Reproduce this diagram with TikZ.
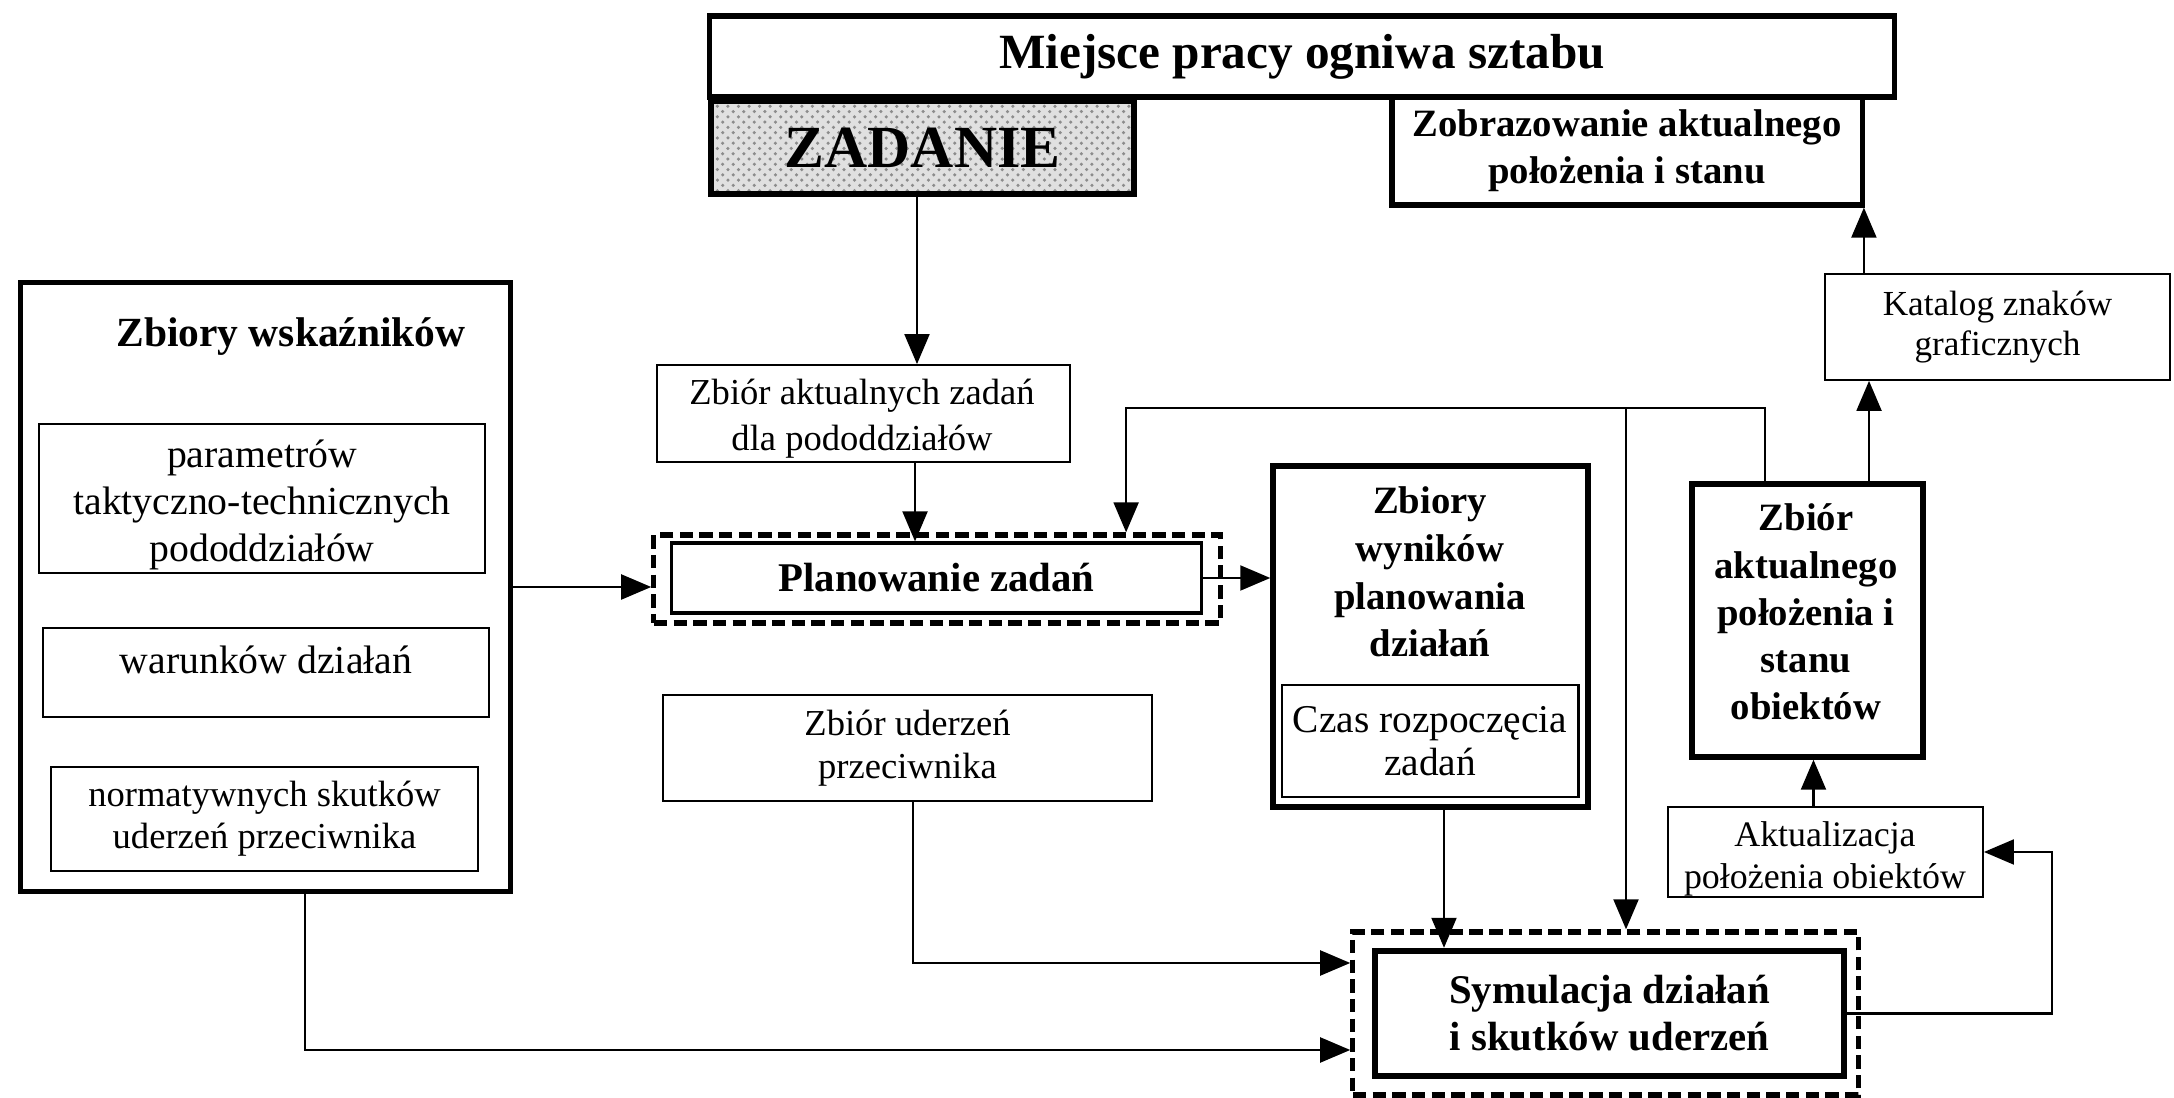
\documentclass[tikz,border=0pt]{standalone}
\usepackage{fontspec}
\setmainfont{Liberation Serif}
\usetikzlibrary{arrows.meta,patterns}
\begin{document}
\begin{tikzpicture}[x=0.01cm,y=-0.01cm,
  thickbox/.style={draw, line width=1.5pt, inner sep=0pt, align=center},
  thinbox/.style={draw, line width=0.5pt, inner sep=0pt, align=center},
  dashbox/.style={draw, line width=1.5pt, dash pattern=on 3.8pt off 1.8pt, inner sep=0pt},
  conn/.style={line width=0.6pt, -{Triangle[length=0.30cm,width=0.25cm]}},
  bigb/.style={font=\fontsize{14}{16}\selectfont\bfseries},
  midb/.style={font=\fontsize{11.6}{13.4}\selectfont\bfseries},
  small/.style={font=\fontsize{10}{11.6}\selectfont}
]
\useasboundingbox (0,0) rectangle (2174,1098);

% top row
\node[thickbox, bigb, minimum width=11.84cm, minimum height=0.81cm] (miejsce) at (1302,56.5) {Miejsce pracy ogniwa sztabu};
\node[thickbox, line width=1.8pt, preaction={fill=black!12}, pattern=crosshatch dots, pattern color=black!45,
      minimum width=4.23cm, minimum height=0.93cm] (zadanie) at (922.5,147.5) {};
\node[font=\fontsize{17}{19}\selectfont\bfseries] (zadtxt) at (922.5,147.5) {ZADANIE};
\node[thickbox, font=\fontsize{11}{13.4}\selectfont\bfseries, minimum width=4.70cm, minimum height=1.08cm] (zobraz) at (1627,151) {Zobrazowanie aktualnego\\położenia i stanu};

% indicator sets
\node[thickbox, minimum width=4.89cm, minimum height=6.08cm] (wsk) at (265.5,587) {};
\node[font=\fontsize{11.8}{14}\selectfont\bfseries] (wsktitle) at (291,337) {Zbiory wskaźników};
\node[thinbox, minimum width=4.46cm, minimum height=1.49cm] (par) at (262,498.5) {};
\node[align=center, font=\fontsize{11.3}{13.4}\selectfont] (partxt) at (262,505) {parametrów\\taktyczno-technicznych\\pododdziałów};
\node[thinbox, minimum width=4.46cm, minimum height=0.89cm] (war) at (266,672.5) {};
\node[font=\fontsize{11.3}{13.4}\selectfont] (wartxt) at (266,660) {warunków działań};
\node[thinbox, font=\fontsize{10.4}{12}\selectfont, minimum width=4.27cm, minimum height=1.04cm] (norm) at (264.5,819) {normatywnych skutków\\uderzeń przeciwnika};

% planning
\node[thinbox, minimum width=4.13cm, minimum height=0.97cm] (aktz) at (863.5,413.5) {};
\node[align=center, font=\fontsize{10.4}{13}\selectfont] (aktztxt) at (862,419) {Zbiór aktualnych zadań\\dla pododdziałów};
\node[dashbox, minimum width=5.66cm, minimum height=0.88cm] (plan) at (937,579) {};
\node[draw, line width=0.9pt, inner sep=0pt, midb, minimum width=5.29cm, minimum height=0.70cm] (planin) at (936.5,578) {Planowanie zadań};

\node[thickbox, minimum width=3.15cm, minimum height=3.41cm] (wyn) at (1430.5,636.5) {};
\node[align=center, font=\fontsize{11}{13.6}\selectfont\bfseries] (wyntxt) at (1430,572) {Zbiory\\wyników\\planowania\\działań};
\node[thinbox, line width=0.8pt, font=\fontsize{11.2}{12.2}\selectfont, minimum width=2.96cm, minimum height=1.12cm] (czas) at (1430,741) {Czas rozpoczęcia\\zadań};

\node[thinbox, font=\fontsize{10.4}{12.2}\selectfont, minimum width=4.89cm, minimum height=1.06cm] (uderz) at (907.5,748) {Zbiór uderzeń\\przeciwnika};

% simulation
\node[dashbox, minimum width=5.05cm, minimum height=1.63cm] (sym) at (1605.5,1013.5) {};
\node[thickbox, line width=1.8pt, midb, minimum width=4.69cm, minimum height=1.25cm] (symin) at (1609.5,1013.5) {Symulacja działań\\i skutków uderzeń};

% object state
\node[thickbox, minimum width=2.31cm, minimum height=2.73cm] (zap) at (1807.5,620.5) {};
\node[align=center, font=\fontsize{11}{13.4}\selectfont\bfseries] (zaptxt) at (1806,612) {Zbiór\\aktualnego\\położenia i\\stanu\\obiektów};
\node[thinbox, minimum width=3.15cm, minimum height=0.90cm] (aktual) at (1825.5,852) {};
\node[align=center, font=\fontsize{10.2}{11.8}\selectfont] (aktualtxt) at (1825,859) {Aktualizacja\\położenia obiektów};
\node[thinbox, small, minimum width=3.45cm, minimum height=1.06cm] (katalog) at (1997.5,327) {Katalog znaków\\graficznych};

% connector anchors
\coordinate (z1) at ([xshift=-0.055cm]zadanie.south);
\coordinate (a1) at ([xshift=0.515cm]aktz.south);
\coordinate (f1) at ([xshift=-0.425cm]zap.north);
\coordinate (fx) at ([xshift=1.89cm]plan.north);
\coordinate (fy) at (0,408);
\coordinate (bx) at ([xshift=0.205cm]sym.north);
\coordinate (w1) at ([xshift=0.395cm]wsk.south);
\coordinate (wy) at (0,1050);
\coordinate (u1) at ([xshift=0.055cm]uderz.south);
\coordinate (uy) at (0,963);
\coordinate (y1) at ([xshift=0.135cm]wyn.south);
\coordinate (rx) at (2052,0);
\coordinate (k1) at ([xshift=-0.12cm]aktual.north);
\coordinate (z2) at ([xshift=0.615cm]zap.north);
\coordinate (kt) at ([xshift=-1.335cm]katalog.north);
\coordinate (ly) at (0,587);

% connectors
\draw[conn] (z1) -- (z1 |- aktz.north);
\draw[conn] (a1) -- (a1 |- planin.north);
\draw[conn] (wsk.east |- ly) -- (plan.west |- ly);
\draw[conn] (planin.east) -- (planin.east -| wyn.west);
\draw[conn] (f1) -- (f1 |- fy) -- (fx |- fy) -- (fx);
\draw[conn] (bx |- fy) -- (bx);
\draw[conn] (w1) -- (w1 |- wy) -- (wy -| sym.west);
\draw[conn] (u1) -- (u1 |- uy) -- (uy -| sym.west);
\draw[conn] (y1) -- (y1 |- symin.north);
\draw[conn] (symin.east) -- (symin.east -| rx) -- (rx |- aktual.east) -- (aktual.east);
\draw[conn] (k1) -- (k1 |- zap.south);
\draw[conn] (z2) -- (z2 |- katalog.south);
\draw[conn] (kt) -- (kt |- zobraz.south);
\end{tikzpicture}
\end{document}
